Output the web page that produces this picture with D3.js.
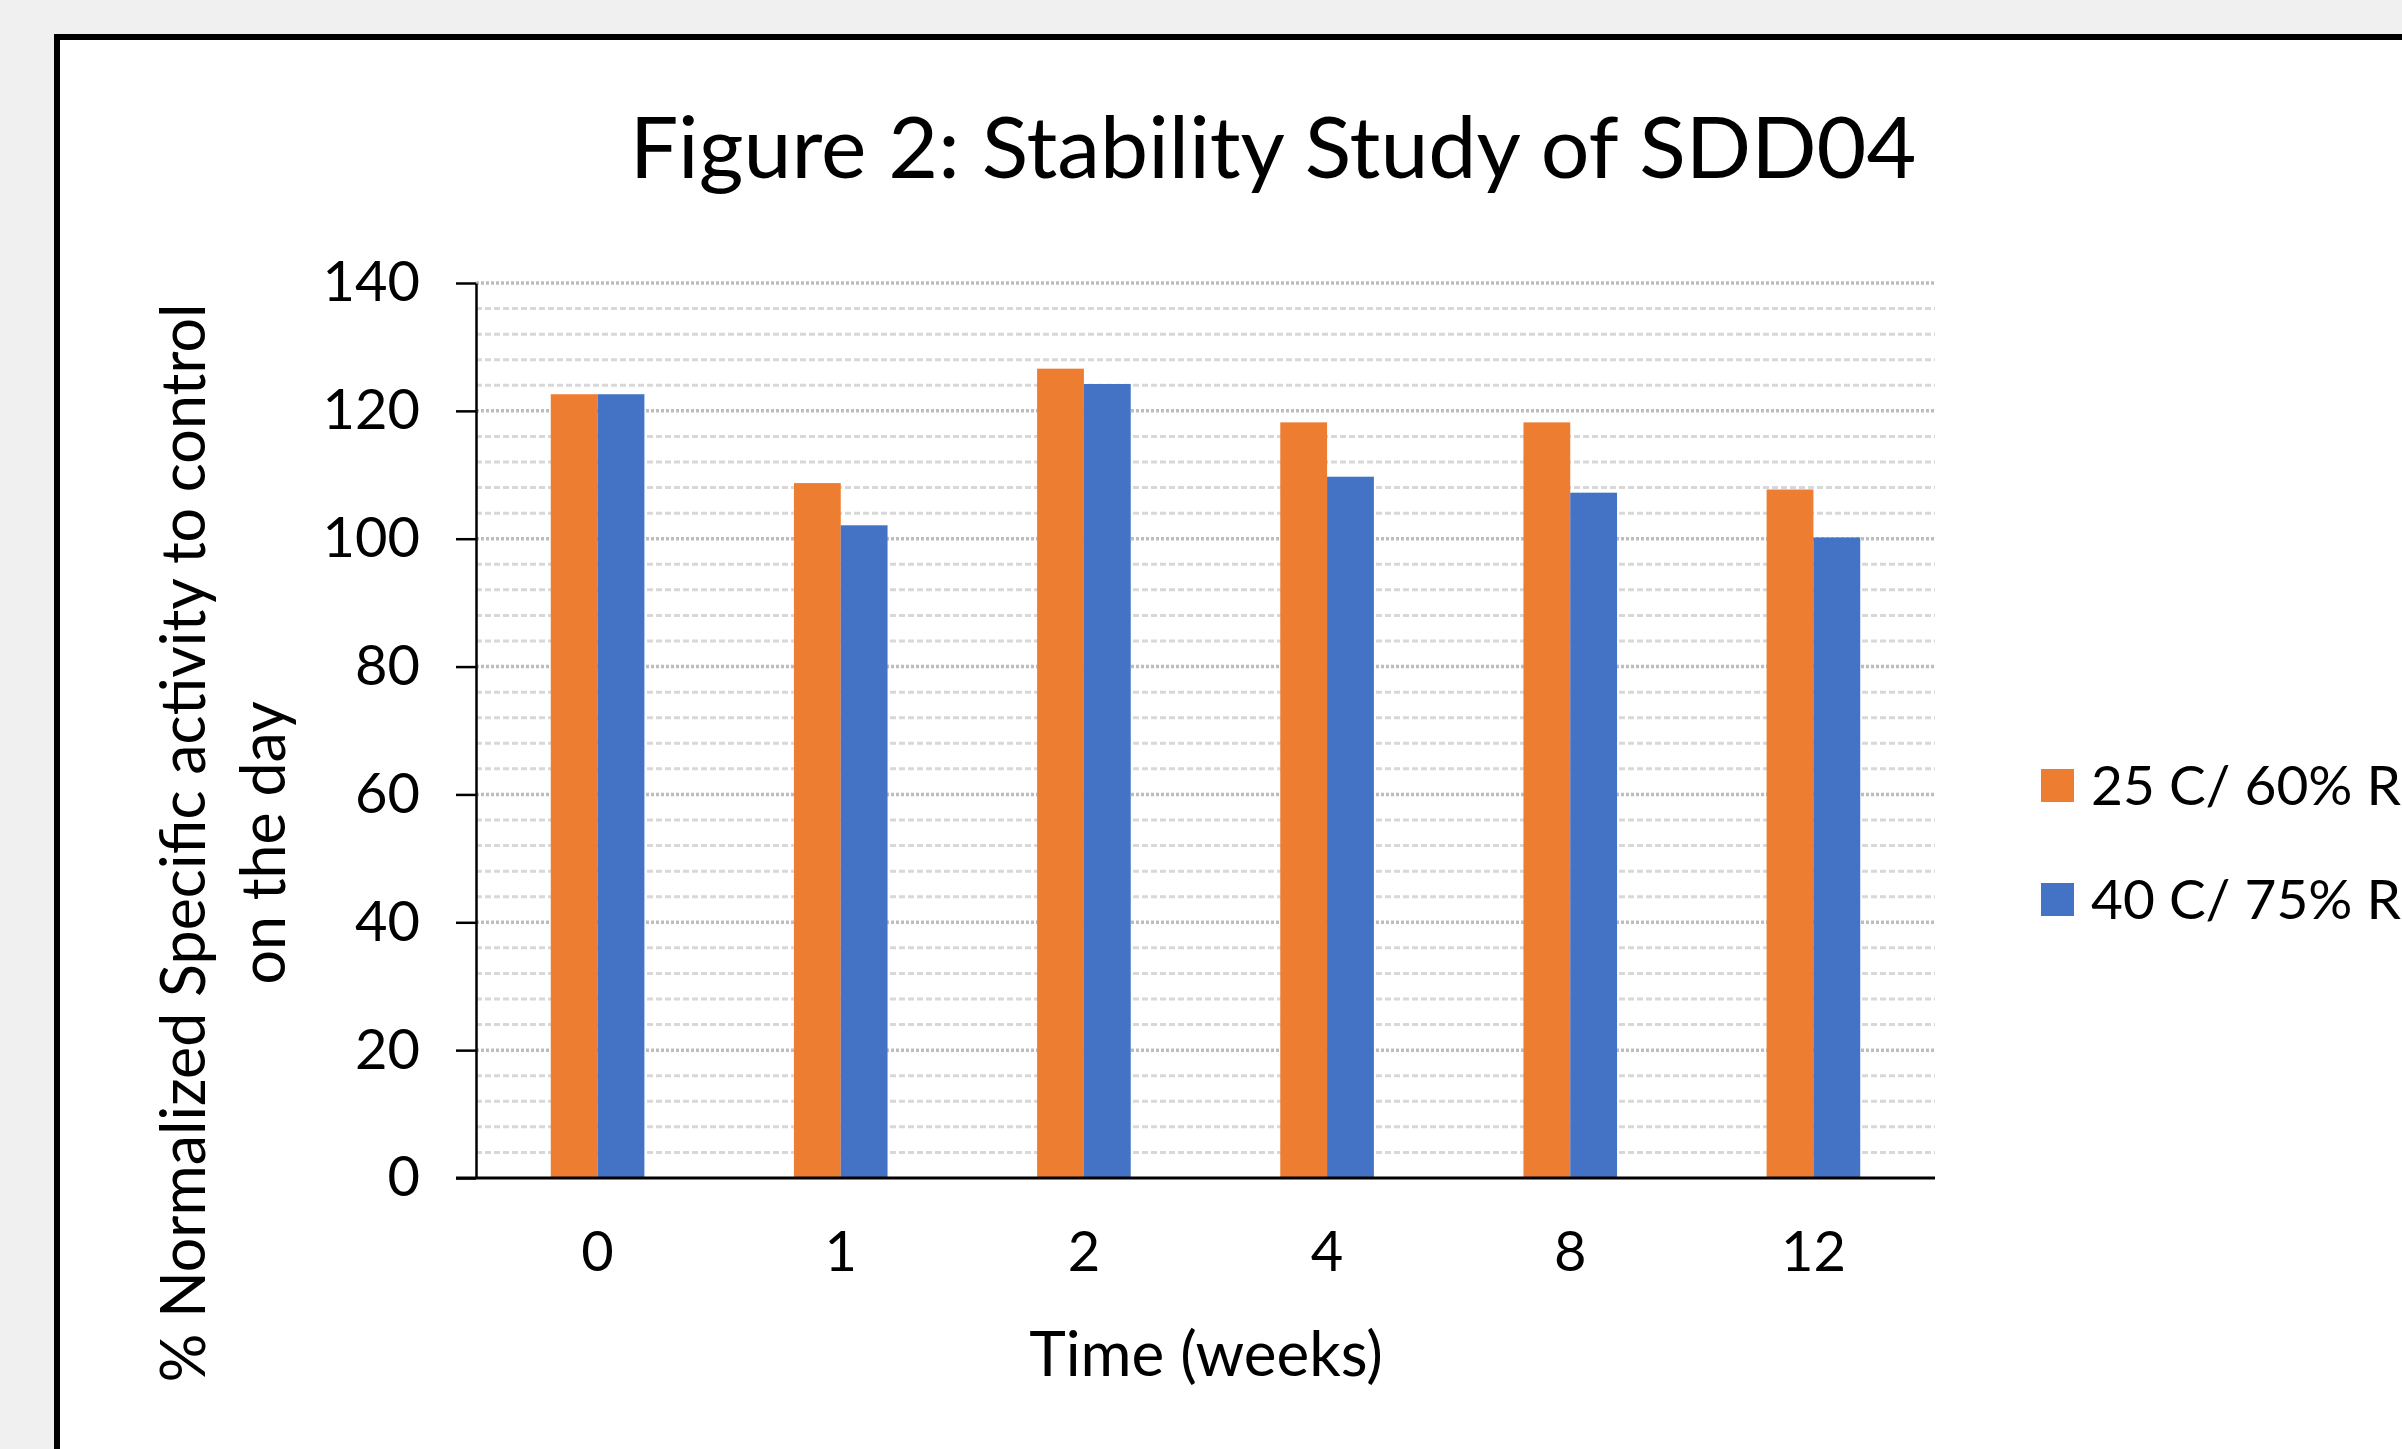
<!DOCTYPE html>
<html>
<head>
<meta charset="utf-8">
<script src="https://cdn.jsdelivr.net/npm/d3@7"></script>
<style>
  body { margin:0; background:#f0f0f0; overflow:hidden; }
  svg { display:block; }
  text { font-family: Lato, "Open Sans", sans-serif; fill:#000; }
</style>
</head>
<body>
<svg id="chart"></svg>
<script>
// categories (weeks) and the two storage conditions
var weeks = ["0","1","2","4","8","12"];
var seriesNames = ["25 C/ 60% RH","40 C/ 75% RH"];
var cond25 = [122.6, 108.7, 126.6, 118.2, 118.2, 107.7];
var cond40 = [122.6, 102.1, 124.2, 109.7, 107.2, 100.2];
var yTicks = [0,20,40,60,80,100,120,140];
var colors = ["#ED7D31","#4472C4"];

var screen = {width:2402, height:1449};
var plot = {left:476, right:1935, top:283, bottom:1178};

var svg = d3.select("#chart")
    .attr("width",screen.width)
    .attr("height",screen.height);

// white chart area with the heavy black frame (runs off the page right/bottom)
svg.append("rect")
    .attr("x",57).attr("y",37)
    .attr("width",2500).attr("height",1600)
    .attr("fill","#fff")
    .attr("stroke","#000")
    .attr("stroke-width",6);

var xScale = d3.scaleBand()
    .domain(weeks)
    .range([plot.left,plot.right])
    .paddingInner(0.615)
    .paddingOuter(0.3075);

var xSub = d3.scaleBand()
    .domain([0,1])
    .range([0,xScale.bandwidth()]);

var yScale = d3.scaleLinear()
    .domain([0,140])
    .range([plot.bottom,plot.top]);

// minor gridlines every 4, major every 20
var minor = d3.range(4,141,4).filter(function(v){ return v%20!=0; });
svg.append("g")
    .selectAll("line")
    .data(minor)
    .enter().append("line")
    .attr("x1",plot.left).attr("x2",plot.right)
    .attr("y1",function(d){ return yScale(d); })
    .attr("y2",function(d){ return yScale(d); })
    .attr("stroke","#d8d8d8")
    .attr("stroke-width",3)
    .attr("stroke-dasharray","6,3");

svg.append("g")
    .selectAll("line")
    .data(yTicks.filter(function(v){ return v>0; }))
    .enter().append("line")
    .attr("x1",plot.left).attr("x2",plot.right)
    .attr("y1",function(d){ return yScale(d); })
    .attr("y2",function(d){ return yScale(d); })
    .attr("stroke","#bdbdbd")
    .attr("stroke-width",3.5)
    .attr("stroke-dasharray","3,2");

// bars
var rows = weeks.map(function(w,i){ return {week:w, vals:[cond25[i],cond40[i]]}; });
svg.append("g")
    .selectAll("g")
    .data(rows)
    .enter().append("g")
    .attr("transform",function(d){ return "translate("+xScale(d.week)+",0)"; })
    .selectAll("rect")
    .data(function(d){ return d.vals; })
    .enter().append("rect")
    .attr("x",function(d,i){ return xSub(i); })
    .attr("width",xSub.bandwidth())
    .attr("y",function(d){ return yScale(d); })
    .attr("height",function(d){ return yScale(0)-yScale(d); })
    .attr("fill",function(d,i){ return colors[i]; });

// y axis
var yAxis = d3.axisLeft(yScale)
    .tickValues(yTicks)
    .tickSize(20)
    .tickSizeOuter(0)
    .tickPadding(36);
var yg = svg.append("g")
    .attr("transform","translate("+plot.left+",0)")
    .call(yAxis);
yg.select(".domain").attr("stroke","#000").attr("stroke-width",2.5);
yg.selectAll(".tick line").attr("stroke","#000").attr("stroke-width",2.5);
yg.selectAll("text").style("font-size","56px").attr("fill","#000");

// x axis: labels only, baseline drawn separately
var xAxis = d3.axisBottom(xScale).tickSize(0).tickPadding(53);
var xg = svg.append("g")
    .attr("transform","translate(0,"+plot.bottom+")")
    .call(xAxis);
xg.select(".domain").remove();
xg.selectAll("text").style("font-size","56px").attr("fill","#000");

svg.append("line")
    .attr("x1",456).attr("x2",plot.right)
    .attr("y1",plot.bottom).attr("y2",plot.bottom)
    .attr("stroke","#000")
    .attr("stroke-width",3);

// titles
svg.append("text")
    .attr("x",1273).attr("y",178)
    .attr("text-anchor","middle")
    .style("font-size","86px")
    .text("Figure 2: Stability Study of SDD04");

svg.append("text")
    .attr("x",1206).attr("y",1376)
    .attr("text-anchor","middle")
    .style("font-size","62px")
    .text("Time (weeks)");

var yTitle = svg.append("text")
    .attr("transform","translate(205,843) rotate(-90)")
    .attr("text-anchor","middle")
    .style("font-size","61px");
yTitle.append("tspan").attr("x",0).attr("y",0)
    .text("% Normalized Specific activity to control");
yTitle.append("tspan").attr("x",0).attr("y",80)
    .text("on the day");

// legend
var legend = svg.append("g")
    .selectAll("g")
    .data(seriesNames)
    .enter().append("g")
    .attr("transform",function(d,i){ return "translate(2041,"+(769+i*114)+")"; });
legend.append("rect")
    .attr("width",33).attr("height",33)
    .attr("fill",function(d,i){ return colors[i]; });
legend.append("text")
    .attr("x",50).attr("y",36)
    .style("font-size","55px")
    .text(function(d){ return d; });
</script>
</body>
</html>
